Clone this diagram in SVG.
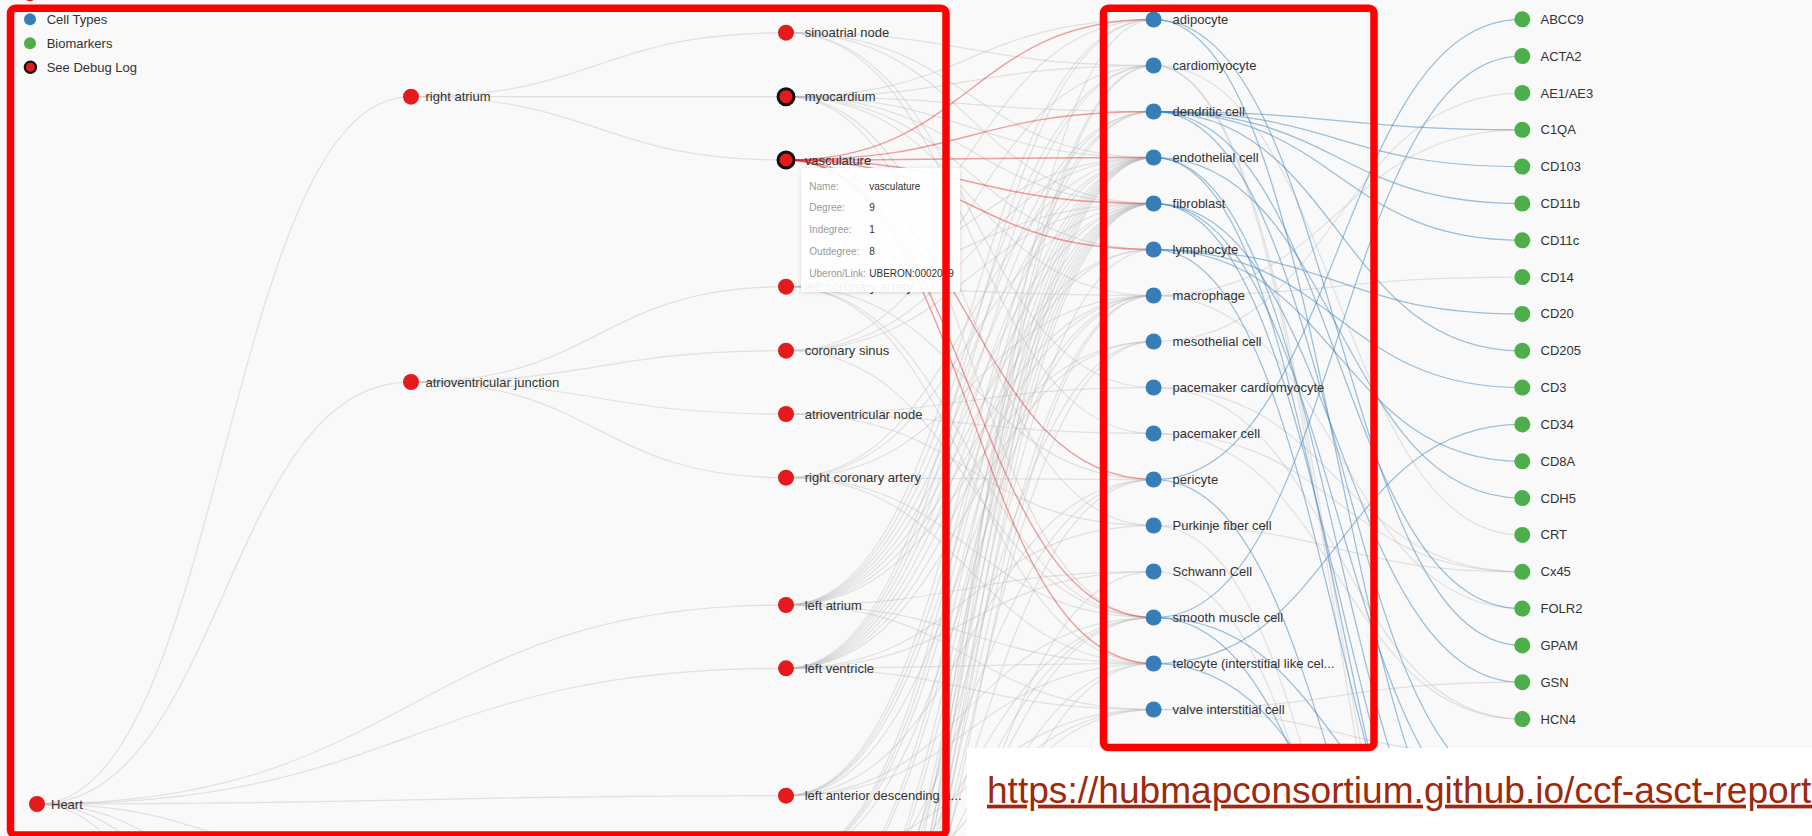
<svg xmlns="http://www.w3.org/2000/svg" width="1812" height="836" viewBox="0 0 1812 836">
<defs>
<style>
text{font-family:"Liberation Sans",Arial,Helvetica,sans-serif}
.e{fill:none;stroke:#b8b8b8;stroke-opacity:.36;stroke-width:1.25}
.r{fill:none;stroke:#e41a1c;stroke-opacity:.42;stroke-width:1.4}
.b{fill:none;stroke:#377eb8;stroke-opacity:.48;stroke-width:1.25}
.as{fill:#e41a1c}
.ct{fill:#377eb8}
.bm{fill:#4daf4a}
.dbg{stroke:#111;stroke-width:3}
.lb{font-size:13px;fill:#333}
.tk{font-size:10px;fill:#9a9a9a}
.tv{font-size:10px;fill:#333}
.box{fill:none;stroke:#ff0000;stroke-width:7.5}
</style>
<filter id="sh" x="-10%" y="-10%" width="125%" height="130%"><feDropShadow dx="0" dy="1" stdDeviation="2" flood-color="#000" flood-opacity="0.15"/></filter>
</defs>
<rect x="0" y="0" width="1812" height="836" fill="#f9f9f9"/>

<g id="connectors">
<path class="e" d="M37,804C224,804 224,96.7 411,96.7"/>
<path class="e" d="M37,804C224,804 224,382 411,382"/>
<path class="e" d="M37,804C224,804 224,870 411,870"/>
<path class="e" d="M37,804C224,804 224,1000 411,1000"/>
<path class="e" d="M37,804C224,804 224,1150 411,1150"/>
<path class="e" d="M37,804C224,804 224,1400 411,1400"/>
<path class="e" d="M37,804C411.5,804 411.5,605 786,605"/>
<path class="e" d="M37,804C411.5,804 411.5,668.3 786,668.3"/>
<path class="e" d="M37,804C411.5,804 411.5,795.7 786,795.7"/>
<path class="e" d="M411,96.7C598.5,96.7 598.5,32.7 786,32.7"/>
<path class="e" d="M411,96.7C598.5,96.7 598.5,96.7 786,96.7"/>
<path class="e" d="M411,96.7C598.5,96.7 598.5,160 786,160"/>
<path class="e" d="M411,382C598.5,382 598.5,286.7 786,286.7"/>
<path class="e" d="M411,382C598.5,382 598.5,350.7 786,350.7"/>
<path class="e" d="M411,382C598.5,382 598.5,414 786,414"/>
<path class="e" d="M411,382C598.5,382 598.5,477.7 786,477.7"/>

<path class="e" d="M786,32.7C970,32.7 970,65.5 1154,65.5"/>
<path class="e" d="M786,32.7C970,32.7 970,157.5 1154,157.5"/>
<path class="e" d="M786,32.7C970,32.7 970,203.5 1154,203.5"/>
<path class="e" d="M786,32.7C970,32.7 970,387.5 1154,387.5"/>
<path class="e" d="M786,32.7C970,32.7 970,433.5 1154,433.5"/>

<path class="e" d="M786,96.7C970,96.7 970,19.5 1154,19.5"/>
<path class="e" d="M786,96.7C970,96.7 970,65.5 1154,65.5"/>
<path class="e" d="M786,96.7C970,96.7 970,111.5 1154,111.5"/>
<path class="e" d="M786,96.7C970,96.7 970,157.5 1154,157.5"/>
<path class="e" d="M786,96.7C970,96.7 970,203.5 1154,203.5"/>
<path class="e" d="M786,96.7C970,96.7 970,249.5 1154,249.5"/>
<path class="e" d="M786,96.7C970,96.7 970,295.5 1154,295.5"/>
<path class="e" d="M786,96.7C970,96.7 970,525.5 1154,525.5"/>
<path class="e" d="M786,96.7C970,96.7 970,617.5 1154,617.5"/>

<path class="e" d="M786,286.7C970,286.7 970,19.5 1154,19.5"/>
<path class="e" d="M786,286.7C970,286.7 970,157.5 1154,157.5"/>
<path class="e" d="M786,286.7C970,286.7 970,203.5 1154,203.5"/>
<path class="e" d="M786,286.7C970,286.7 970,295.5 1154,295.5"/>
<path class="e" d="M786,286.7C970,286.7 970,479.5 1154,479.5"/>
<path class="e" d="M786,286.7C970,286.7 970,617.5 1154,617.5"/>
<path class="e" d="M786,286.7C970,286.7 970,663.5 1154,663.5"/>

<path class="e" d="M786,350.7C970,350.7 970,65.5 1154,65.5"/>
<path class="e" d="M786,350.7C970,350.7 970,157.5 1154,157.5"/>
<path class="e" d="M786,350.7C970,350.7 970,203.5 1154,203.5"/>
<path class="e" d="M786,350.7C970,350.7 970,617.5 1154,617.5"/>

<path class="e" d="M786,414C970,414 970,387.5 1154,387.5"/>
<path class="e" d="M786,414C970,414 970,433.5 1154,433.5"/>
<path class="e" d="M786,414C970,414 970,525.5 1154,525.5"/>

<path class="e" d="M786,477.7C970,477.7 970,157.5 1154,157.5"/>
<path class="e" d="M786,477.7C970,477.7 970,203.5 1154,203.5"/>
<path class="e" d="M786,477.7C970,477.7 970,295.5 1154,295.5"/>
<path class="e" d="M786,477.7C970,477.7 970,479.5 1154,479.5"/>
<path class="e" d="M786,477.7C970,477.7 970,617.5 1154,617.5"/>
<path class="e" d="M786,477.7C970,477.7 970,663.5 1154,663.5"/>

<path class="e" d="M786,605C970,605 970,19.5 1154,19.5"/>
<path class="e" d="M786,605C970,605 970,65.5 1154,65.5"/>
<path class="e" d="M786,605C970,605 970,111.5 1154,111.5"/>
<path class="e" d="M786,605C970,605 970,157.5 1154,157.5"/>
<path class="e" d="M786,605C970,605 970,203.5 1154,203.5"/>
<path class="e" d="M786,605C970,605 970,249.5 1154,249.5"/>
<path class="e" d="M786,605C970,605 970,295.5 1154,295.5"/>
<path class="e" d="M786,605C970,605 970,341.5 1154,341.5"/>
<path class="e" d="M786,605C970,605 970,571.5 1154,571.5"/>
<path class="e" d="M786,605C970,605 970,663.5 1154,663.5"/>
<path class="e" d="M786,605C970,605 970,709.5 1154,709.5"/>

<path class="e" d="M786,668.3C970,668.3 970,19.5 1154,19.5"/>
<path class="e" d="M786,668.3C970,668.3 970,65.5 1154,65.5"/>
<path class="e" d="M786,668.3C970,668.3 970,111.5 1154,111.5"/>
<path class="e" d="M786,668.3C970,668.3 970,157.5 1154,157.5"/>
<path class="e" d="M786,668.3C970,668.3 970,203.5 1154,203.5"/>
<path class="e" d="M786,668.3C970,668.3 970,249.5 1154,249.5"/>
<path class="e" d="M786,668.3C970,668.3 970,295.5 1154,295.5"/>
<path class="e" d="M786,668.3C970,668.3 970,341.5 1154,341.5"/>
<path class="e" d="M786,668.3C970,668.3 970,525.5 1154,525.5"/>
<path class="e" d="M786,668.3C970,668.3 970,571.5 1154,571.5"/>
<path class="e" d="M786,668.3C970,668.3 970,663.5 1154,663.5"/>
<path class="e" d="M786,668.3C970,668.3 970,709.5 1154,709.5"/>

<path class="e" d="M786,795.7C970,795.7 970,111.5 1154,111.5"/>
<path class="e" d="M786,795.7C970,795.7 970,157.5 1154,157.5"/>
<path class="e" d="M786,795.7C970,795.7 970,203.5 1154,203.5"/>
<path class="e" d="M786,795.7C970,795.7 970,295.5 1154,295.5"/>
<path class="e" d="M786,795.7C970,795.7 970,479.5 1154,479.5"/>
<path class="e" d="M786,795.7C970,795.7 970,617.5 1154,617.5"/>
<path class="e" d="M786,795.7C970,795.7 970,663.5 1154,663.5"/>

<path class="e" d="M786,859.3C970,859.3 970,111.5 1154,111.5"/>
<path class="e" d="M786,859.3C970,859.3 970,157.5 1154,157.5"/>
<path class="e" d="M786,859.3C970,859.3 970,203.5 1154,203.5"/>
<path class="e" d="M786,859.3C970,859.3 970,295.5 1154,295.5"/>
<path class="e" d="M786,859.3C970,859.3 970,709.5 1154,709.5"/>

<path class="e" d="M786,923C970,923 970,157.5 1154,157.5"/>
<path class="e" d="M786,923C970,923 970,203.5 1154,203.5"/>
<path class="e" d="M786,923C970,923 970,479.5 1154,479.5"/>
<path class="e" d="M786,923C970,923 970,617.5 1154,617.5"/>
<path class="e" d="M786,923C970,923 970,709.5 1154,709.5"/>

<path class="e" d="M786,986.6C970,986.6 970,157.5 1154,157.5"/>
<path class="e" d="M786,986.6C970,986.6 970,203.5 1154,203.5"/>
<path class="e" d="M786,986.6C970,986.6 970,341.5 1154,341.5"/>
<path class="e" d="M786,986.6C970,986.6 970,617.5 1154,617.5"/>
<path class="e" d="M786,986.6C970,986.6 970,709.5 1154,709.5"/>

<path class="e" d="M786,1050.2C970,1050.2 970,157.5 1154,157.5"/>
<path class="e" d="M786,1050.2C970,1050.2 970,203.5 1154,203.5"/>
<path class="e" d="M786,1050.2C970,1050.2 970,479.5 1154,479.5"/>
<path class="e" d="M786,1050.2C970,1050.2 970,617.5 1154,617.5"/>
<path class="e" d="M786,1050.2C970,1050.2 970,663.5 1154,663.5"/>

<path class="e" d="M786,1113.8C970,1113.8 970,65.5 1154,65.5"/>
<path class="e" d="M786,1113.8C970,1113.8 970,157.5 1154,157.5"/>
<path class="e" d="M786,1113.8C970,1113.8 970,203.5 1154,203.5"/>
<path class="e" d="M786,1113.8C970,1113.8 970,249.5 1154,249.5"/>
<path class="e" d="M786,1113.8C970,1113.8 970,295.5 1154,295.5"/>
<path class="e" d="M786,1113.8C970,1113.8 970,341.5 1154,341.5"/>
<path class="e" d="M786,1113.8C970,1113.8 970,571.5 1154,571.5"/>

<path class="e" d="M786,1177.4C970,1177.4 970,19.5 1154,19.5"/>
<path class="e" d="M786,1177.4C970,1177.4 970,65.5 1154,65.5"/>
<path class="e" d="M786,1177.4C970,1177.4 970,157.5 1154,157.5"/>
<path class="e" d="M786,1177.4C970,1177.4 970,203.5 1154,203.5"/>
<path class="e" d="M786,1177.4C970,1177.4 970,295.5 1154,295.5"/>
<path class="e" d="M786,1177.4C970,1177.4 970,663.5 1154,663.5"/>

<path class="e" d="M1154,65.5C1338,65.5 1338,534.9 1522,534.9"/>
<path class="e" d="M1154,65.5C1338,65.5 1338,1161 1522,1161"/>
<path class="e" d="M1154,65.5C1338,65.5 1338,1197.9 1522,1197.9"/>
<path class="e" d="M1154,295.5C1338,295.5 1338,129.8 1522,129.8"/>
<path class="e" d="M1154,295.5C1338,295.5 1338,277.1 1522,277.1"/>
<path class="e" d="M1154,295.5C1338,295.5 1338,608.6 1522,608.6"/>
<path class="e" d="M1154,341.5C1338,341.5 1338,93 1522,93"/>
<path class="e" d="M1154,387.5C1338,387.5 1338,571.8 1522,571.8"/>
<path class="e" d="M1154,387.5C1338,387.5 1338,719.1 1522,719.1"/>
<path class="e" d="M1154,433.5C1338,433.5 1338,571.8 1522,571.8"/>
<path class="e" d="M1154,433.5C1338,433.5 1338,719.1 1522,719.1"/>
<path class="e" d="M1154,525.5C1338,525.5 1338,571.8 1522,571.8"/>
<path class="e" d="M1154,525.5C1338,525.5 1338,1234.7 1522,1234.7"/>
<path class="e" d="M1154,571.5C1338,571.5 1338,1234.7 1522,1234.7"/>
<path class="e" d="M1154,709.5C1338,709.5 1338,682.2 1522,682.2"/>
<path class="e" d="M1154,709.5C1338,709.5 1338,755.9 1522,755.9"/>

<path class="r" d="M786,160C970,160 970,19.5 1154,19.5"/>
<path class="r" d="M786,160C970,160 970,111.5 1154,111.5"/>
<path class="r" d="M786,160C970,160 970,157.5 1154,157.5"/>
<path class="r" d="M786,160C970,160 970,203.5 1154,203.5"/>
<path class="r" d="M786,160C970,160 970,249.5 1154,249.5"/>
<path class="r" d="M786,160C970,160 970,479.5 1154,479.5"/>
<path class="r" d="M786,160C970,160 970,617.5 1154,617.5"/>
<path class="r" d="M786,160C970,160 970,663.5 1154,663.5"/>

<path class="b" d="M1154,19.5C1338,19.5 1338,645.4 1522,645.4"/>
<path class="b" d="M1154,19.5C1338,19.5 1338,903.2 1522,903.2"/>
<path class="b" d="M1154,111.5C1338,111.5 1338,129.8 1522,129.8"/>
<path class="b" d="M1154,111.5C1338,111.5 1338,166.6 1522,166.6"/>
<path class="b" d="M1154,111.5C1338,111.5 1338,203.5 1522,203.5"/>
<path class="b" d="M1154,111.5C1338,111.5 1338,240.3 1522,240.3"/>
<path class="b" d="M1154,111.5C1338,111.5 1338,350.8 1522,350.8"/>
<path class="b" d="M1154,111.5C1338,111.5 1338,608.6 1522,608.6"/>
<path class="b" d="M1154,111.5C1338,111.5 1338,792.7 1522,792.7"/>
<path class="b" d="M1154,157.5C1338,157.5 1338,498.1 1522,498.1"/>
<path class="b" d="M1154,157.5C1338,157.5 1338,940.1 1522,940.1"/>
<path class="b" d="M1154,157.5C1338,157.5 1338,1050.5 1522,1050.5"/>
<path class="b" d="M1154,203.5C1338,203.5 1338,682.2 1522,682.2"/>
<path class="b" d="M1154,203.5C1338,203.5 1338,829.6 1522,829.6"/>
<path class="b" d="M1154,203.5C1338,203.5 1338,976.9 1522,976.9"/>
<path class="b" d="M1154,249.5C1338,249.5 1338,313.9 1522,313.9"/>
<path class="b" d="M1154,249.5C1338,249.5 1338,387.6 1522,387.6"/>
<path class="b" d="M1154,249.5C1338,249.5 1338,461.3 1522,461.3"/>
<path class="b" d="M1154,249.5C1338,249.5 1338,1013.7 1522,1013.7"/>
<path class="b" d="M1154,479.5C1338,479.5 1338,19.3 1522,19.3"/>
<path class="b" d="M1154,479.5C1338,479.5 1338,1087.4 1522,1087.4"/>
<path class="b" d="M1154,617.5C1338,617.5 1338,56.1 1522,56.1"/>
<path class="b" d="M1154,617.5C1338,617.5 1338,866.4 1522,866.4"/>
<path class="b" d="M1154,617.5C1338,617.5 1338,1124.2 1522,1124.2"/>
<path class="b" d="M1154,663.5C1338,663.5 1338,424.4 1522,424.4"/>
<path class="b" d="M1154,663.5C1338,663.5 1338,976.9 1522,976.9"/>
</g>

<g id="legend">
<circle class="as" cx="30" cy="-4.7" r="6"/>
<text class="lb" x="46.7" y="-0.4">Anatomical Structures</text>
<circle class="ct" cx="30" cy="19.3" r="6"/>
<text class="lb" x="46.7" y="23.6">Cell Types</text>
<circle class="bm" cx="30" cy="43.3" r="6"/>
<text class="lb" x="46.7" y="47.6">Biomarkers</text>
<circle class="as dbg" cx="30.4" cy="67.3" r="5.6" style="stroke-width:2.2"/>
<text class="lb" x="46.7" y="71.6">See Debug Log</text>
</g>

<g id="n-heart"><circle class="as" cx="37" cy="804" r="8"/><text class="lb" x="51" y="808.5">Heart</text></g>
<g id="n-right-atrium"><circle class="as" cx="411" cy="96.7" r="8"/><text class="lb" x="425.5" y="101.2">right atrium</text></g>
<g id="n-av-junction"><circle class="as" cx="411" cy="382" r="8"/><text class="lb" x="425.5" y="386.5">atrioventricular junction</text></g>

<g id="n-sinoatrial-node"><circle class="as" cx="786" cy="32.7" r="8"/><text class="lb" x="804.7" y="37.2">sinoatrial node</text></g>
<g id="n-myocardium"><circle class="as dbg" cx="786" cy="96.7" r="8"/><text class="lb" x="804.7" y="101.2">myocardium</text></g>
<g id="n-vasculature"><circle class="as dbg" cx="786" cy="160" r="8"/><text class="lb" x="804.7" y="164.5">vasculature</text></g>
<g id="n-left-coronary-artery"><circle class="as" cx="786" cy="286.7" r="8"/><text class="lb" x="804.7" y="291.2">left coronary artery</text></g>
<g id="n-coronary-sinus"><circle class="as" cx="786" cy="350.7" r="8"/><text class="lb" x="804.7" y="355.2">coronary sinus</text></g>
<g id="n-av-node"><circle class="as" cx="786" cy="414" r="8"/><text class="lb" x="804.7" y="418.5">atrioventricular node</text></g>
<g id="n-right-coronary-artery"><circle class="as" cx="786" cy="477.7" r="8"/><text class="lb" x="804.7" y="482.2">right coronary artery</text></g>
<g id="n-left-atrium"><circle class="as" cx="786" cy="605" r="8"/><text class="lb" x="804.7" y="609.5">left atrium</text></g>
<g id="n-left-ventricle"><circle class="as" cx="786" cy="668.3" r="8"/><text class="lb" x="804.7" y="672.8">left ventricle</text></g>
<g id="n-lad"><circle class="as" cx="786" cy="795.7" r="8"/><text class="lb" x="804.7" y="800.2">left anterior descending a...</text></g>

<g id="n-adipocyte"><circle class="ct" cx="1153.6" cy="19.5" r="8"/><text class="lb" x="1172.6" y="24">adipocyte</text></g>
<g id="n-cardiomyocyte"><circle class="ct" cx="1153.6" cy="65.5" r="8"/><text class="lb" x="1172.6" y="70">cardiomyocyte</text></g>
<g id="n-dendritic-cell"><circle class="ct" cx="1153.6" cy="111.5" r="8"/><text class="lb" x="1172.6" y="116">dendritic cell</text></g>
<g id="n-endothelial-cell"><circle class="ct" cx="1153.6" cy="157.5" r="8"/><text class="lb" x="1172.6" y="162">endothelial cell</text></g>
<g id="n-fibroblast"><circle class="ct" cx="1153.6" cy="203.5" r="8"/><text class="lb" x="1172.6" y="208">fibroblast</text></g>
<g id="n-lymphocyte"><circle class="ct" cx="1153.6" cy="249.5" r="8"/><text class="lb" x="1172.6" y="254">lymphocyte</text></g>
<g id="n-macrophage"><circle class="ct" cx="1153.6" cy="295.5" r="8"/><text class="lb" x="1172.6" y="300">macrophage</text></g>
<g id="n-mesothelial-cell"><circle class="ct" cx="1153.6" cy="341.5" r="8"/><text class="lb" x="1172.6" y="346">mesothelial cell</text></g>
<g id="n-pacemaker-cardiomyocyte"><circle class="ct" cx="1153.6" cy="387.5" r="8"/><text class="lb" x="1172.6" y="392">pacemaker cardiomyocyte</text></g>
<g id="n-pacemaker-cell"><circle class="ct" cx="1153.6" cy="433.5" r="8"/><text class="lb" x="1172.6" y="438">pacemaker cell</text></g>
<g id="n-pericyte"><circle class="ct" cx="1153.6" cy="479.5" r="8"/><text class="lb" x="1172.6" y="484">pericyte</text></g>
<g id="n-purkinje"><circle class="ct" cx="1153.6" cy="525.5" r="8"/><text class="lb" x="1172.6" y="530">Purkinje fiber cell</text></g>
<g id="n-schwann"><circle class="ct" cx="1153.6" cy="571.5" r="8"/><text class="lb" x="1172.6" y="576">Schwann Cell</text></g>
<g id="n-smooth-muscle"><circle class="ct" cx="1153.6" cy="617.5" r="8"/><text class="lb" x="1172.6" y="622">smooth muscle cell</text></g>
<g id="n-telocyte"><circle class="ct" cx="1153.6" cy="663.5" r="8"/><text class="lb" x="1172.6" y="668">telocyte (interstitial like cel...</text></g>
<g id="n-valve-interstitial"><circle class="ct" cx="1153.6" cy="709.5" r="8"/><text class="lb" x="1172.6" y="714">valve interstitial cell</text></g>

<g id="n-ABCC9"><circle class="bm" cx="1522.3" cy="19.3" r="8"/><text class="lb" x="1540.5" y="23.8">ABCC9</text></g>
<g id="n-ACTA2"><circle class="bm" cx="1522.3" cy="56.1" r="8"/><text class="lb" x="1540.5" y="60.6">ACTA2</text></g>
<g id="n-AE1AE3"><circle class="bm" cx="1522.3" cy="93" r="8"/><text class="lb" x="1540.5" y="97.5">AE1/AE3</text></g>
<g id="n-C1QA"><circle class="bm" cx="1522.3" cy="129.8" r="8"/><text class="lb" x="1540.5" y="134.3">C1QA</text></g>
<g id="n-CD103"><circle class="bm" cx="1522.3" cy="166.6" r="8"/><text class="lb" x="1540.5" y="171.1">CD103</text></g>
<g id="n-CD11b"><circle class="bm" cx="1522.3" cy="203.5" r="8"/><text class="lb" x="1540.5" y="208">CD11b</text></g>
<g id="n-CD11c"><circle class="bm" cx="1522.3" cy="240.3" r="8"/><text class="lb" x="1540.5" y="244.8">CD11c</text></g>
<g id="n-CD14"><circle class="bm" cx="1522.3" cy="277.1" r="8"/><text class="lb" x="1540.5" y="281.6">CD14</text></g>
<g id="n-CD20"><circle class="bm" cx="1522.3" cy="313.9" r="8"/><text class="lb" x="1540.5" y="318.4">CD20</text></g>
<g id="n-CD205"><circle class="bm" cx="1522.3" cy="350.8" r="8"/><text class="lb" x="1540.5" y="355.3">CD205</text></g>
<g id="n-CD3"><circle class="bm" cx="1522.3" cy="387.6" r="8"/><text class="lb" x="1540.5" y="392.1">CD3</text></g>
<g id="n-CD34"><circle class="bm" cx="1522.3" cy="424.4" r="8"/><text class="lb" x="1540.5" y="428.9">CD34</text></g>
<g id="n-CD8A"><circle class="bm" cx="1522.3" cy="461.3" r="8"/><text class="lb" x="1540.5" y="465.8">CD8A</text></g>
<g id="n-CDH5"><circle class="bm" cx="1522.3" cy="498.1" r="8"/><text class="lb" x="1540.5" y="502.6">CDH5</text></g>
<g id="n-CRT"><circle class="bm" cx="1522.3" cy="534.9" r="8"/><text class="lb" x="1540.5" y="539.4">CRT</text></g>
<g id="n-Cx45"><circle class="bm" cx="1522.3" cy="571.8" r="8"/><text class="lb" x="1540.5" y="576.3">Cx45</text></g>
<g id="n-FOLR2"><circle class="bm" cx="1522.3" cy="608.6" r="8"/><text class="lb" x="1540.5" y="613.1">FOLR2</text></g>
<g id="n-GPAM"><circle class="bm" cx="1522.3" cy="645.4" r="8"/><text class="lb" x="1540.5" y="649.9">GPAM</text></g>
<g id="n-GSN"><circle class="bm" cx="1522.3" cy="682.2" r="8"/><text class="lb" x="1540.5" y="686.7">GSN</text></g>
<g id="n-HCN4"><circle class="bm" cx="1522.3" cy="719.1" r="8"/><text class="lb" x="1540.5" y="723.6">HCN4</text></g>

<g id="tooltip">
<rect x="801" y="168" width="159" height="124" rx="2" fill="#ffffff" fill-opacity="0.93" filter="url(#sh)"/>
<text class="tk" x="809.3" y="189.5">Name:</text><text class="tv" x="869.3" y="189.5">vasculature</text>
<text class="tk" x="809.3" y="211.3">Degree:</text><text class="tv" x="869.3" y="211.3">9</text>
<text class="tk" x="809.3" y="233.1">Indegree:</text><text class="tv" x="869.3" y="233.1">1</text>
<text class="tk" x="809.3" y="254.9">Outdegree:</text><text class="tv" x="869.3" y="254.9">8</text>
<text class="tk" x="809.3" y="276.7">Uberon/Link:</text><text class="tv" x="869.3" y="276.7">UBERON:0002049</text>
</g>

<rect x="967" y="748" width="845" height="88" fill="#ffffff"/>

<g id="highlight-boxes">
<rect class="box" x="10.5" y="8.3" width="935.5" height="826.7" rx="5"/>
<rect class="box" x="1103.5" y="8.3" width="270.5" height="739.2" rx="5"/>
</g>

<text x="987" y="802.7" font-size="37.1" fill="#9c2a0e" text-decoration="underline">https://hubmapconsortium.github.io/ccf-asct-reports/</text>
</svg>
